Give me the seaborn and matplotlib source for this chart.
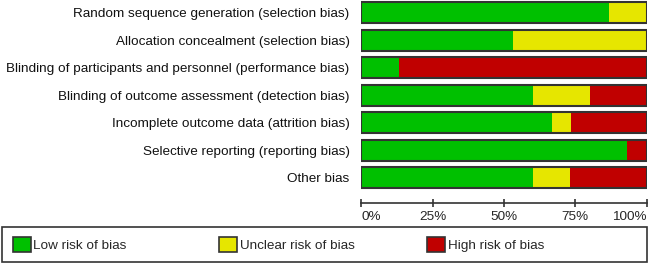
import matplotlib
matplotlib.use('Agg')
import matplotlib.pyplot as plt
from matplotlib.patches import Patch, Rectangle
import seaborn as sns
import pandas as pd

# Risk of bias domains (top to bottom)
domains = [
    'Random sequence generation (selection bias)',
    'Allocation concealment (selection bias)',
    'Blinding of participants and personnel (performance bias)',
    'Blinding of outcome assessment (detection bias)',
    'Incomplete outcome data (attrition bias)',
    'Selective reporting (reporting bias)',
    'Other bias',
]

# percent of studies per judgement
low_risk = [86.7, 53.3, 13.3, 60.0, 66.7, 93.3, 60.0]
unclear_risk = [13.3, 46.7, 0.0, 20.0, 6.7, 0.0, 13.3]
high_risk = [0.0, 0.0, 86.7, 20.0, 26.6, 6.7, 26.7]

tick_values = [0, 25, 50, 75, 100]
tick_labels = ['0%', '25%', '50%', '75%', '100%']
legend_labels = ['Low risk of bias', 'Unclear risk of bias', 'High risk of bias']

green = '#00C000'
yellow = '#E6E600'
red = '#C00000'
edge = '#333333'
fs = 9.7

df = pd.DataFrame({'Domain': domains, 'Low': low_risk,
                   'Unclear': unclear_risk, 'High': high_risk})
df['LowUnclear'] = df['Low'] + df['Unclear']
df['Total'] = df['LowUnclear'] + df['High']

sns.set_style('white')
plt.rcParams['font.family'] = ['Liberation Sans', 'DejaVu Sans']

fig = plt.figure(figsize=(6.5, 2.64), dpi=100)
ax = fig.add_axes([361.5 / 650, (264 - 203.3) / 264, 285 / 650, 203.3 / 264])

bw = 0.77
# stacked by overdrawing cumulative bars
sns.barplot(data=df, x='Total', y='Domain', color=red, width=bw, linewidth=0,
            saturation=1, ax=ax)
sns.barplot(data=df, x='LowUnclear', y='Domain', color=yellow, width=bw, linewidth=0,
            saturation=1, ax=ax)
sns.barplot(data=df, x='Low', y='Domain', color=green, width=bw, linewidth=0,
            saturation=1, ax=ax)
# outline around each full bar
sns.barplot(data=df, x='Total', y='Domain', width=bw, fill=False,
            edgecolor=edge, linewidth=1.5, ax=ax)

ax.set_xlim(0, 100)
ax.set_ylim(6.93, -0.47)
ax.set_xlabel('')
ax.set_ylabel('')

sns.despine(ax=ax, left=True, top=True, right=True)
ax.spines['bottom'].set_color(edge)
ax.spines['bottom'].set_linewidth(1.2)

ax.set_xticks(tick_values)
ax.set_xticklabels(tick_labels, fontsize=fs)
labels = ax.get_xticklabels()
labels[0].set_horizontalalignment('left')
labels[-1].set_horizontalalignment('right')
ax.tick_params(axis='x', direction='inout', length=6, width=1.2, color=edge,
               pad=2.5, bottom=True)
ax.tick_params(axis='y', length=0, pad=8.5, labelsize=fs)
for t in ax.get_yticklabels():
    t.set_color('#111111')

# legend box across the bottom
fig.patches.append(Rectangle((1.5 / 650, 2.3 / 264), 645.5 / 650, 34.5 / 264,
                             transform=fig.transFigure, facecolor='white',
                             edgecolor=edge, linewidth=1.2))
legend_x = [12.7, 219, 427]
for x, c, lab in zip(legend_x, [green, yellow, red], legend_labels):
    h = Patch(facecolor=c, edgecolor=edge, linewidth=1.2)
    fig.legend([h], [lab], loc='center left',
               bbox_to_anchor=(x / 650, 19.2 / 264), frameon=False,
               borderpad=0, borderaxespad=0, handlelength=1.33,
               handleheight=1.33, handletextpad=0.2, fontsize=fs)

fig.savefig('out.png', dpi=100)
